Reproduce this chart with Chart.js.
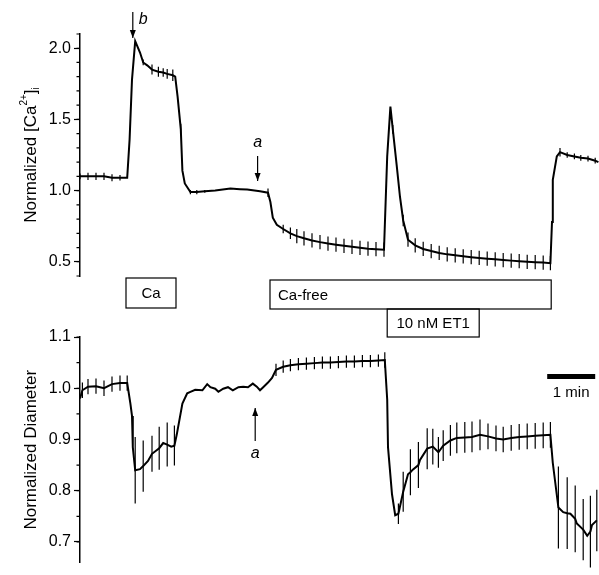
<!DOCTYPE html>
<html>
<head>
<meta charset="utf-8">
<script src="https://cdn.jsdelivr.net/npm/chart.js@4"></script>
<style>
html, body { margin: 0; padding: 0; background: #fff; }
#wrap { position: relative; width: 599px; height: 575px; }
canvas { position: absolute; left: 0; top: 0; }
</style>
</head>
<body>
<div id="wrap">
  <canvas id="caChart" width="599" height="575"></canvas>
  <canvas id="diamChart" width="599" height="575"></canvas>
</div>
<script>
// time is in seconds from the start of the trace
const caTime = [0, 10, 20, 30, 40, 50, 59, 62, 65, 69, 75, 79, 84, 90, 98, 104, 109, 116, 119, 122, 126, 128, 131,
    138, 146, 156, 169, 188, 200, 209, 225, 235, 238, 241, 246, 254, 263, 271, 280, 290, 300, 310, 320, 330, 340,
    350, 360, 370, 380, 384, 388, 391, 396, 400, 404, 410, 419, 429, 439, 449, 459, 469, 479, 489, 499, 509, 519,
    529, 539, 549, 559, 569, 579, 588, 590, 591, 596, 600, 609, 618, 626, 635, 644, 648];
const caValue = [1.10, 1.10, 1.10, 1.10, 1.09, 1.09, 1.09, 1.36, 1.78, 2.05, 1.97, 1.90, 1.88, 1.85, 1.835, 1.83,
    1.82, 1.81, 1.80, 1.66, 1.43, 1.14, 1.05,
    0.99, 0.99, 0.995, 1.0, 1.015, 1.01, 1.007, 0.995, 0.985, 0.92, 0.81, 0.76, 0.73, 0.70, 0.68, 0.665, 0.65, 0.638,
    0.628, 0.62, 0.612, 0.605, 0.598, 0.592, 0.588, 0.585, 1.24, 1.59, 1.43, 1.17, 0.955, 0.79, 0.655, 0.615, 0.59,
    0.575, 0.562, 0.552, 0.545, 0.538, 0.532, 0.527, 0.522, 0.517, 0.512, 0.508, 0.504, 0.50, 0.497, 0.494, 0.49,
    0.78, 1.075, 1.24, 1.27, 1.25, 1.24, 1.23, 1.225, 1.21, 1.20];
const caError = [0.02, 0.025, 0.025, 0.025, 0.025, 0.02, 0, 0, 0, 0, 0, 0.02, 0, 0.035, 0.035, 0.03,
    0.035, 0.04, 0, 0, 0.04, 0, 0,
    0.015, 0.015, 0.01, 0, 0, 0, 0, 0, 0.03, 0, 0, 0, 0.03, 0.04, 0.05, 0.05, 0.05, 0.05,
    0.05, 0.05, 0.05, 0.05, 0.05, 0.05, 0.05, 0.05, 0, 0, 0.03, 0, 0, 0.04, 0.05, 0.05, 0.05,
    0.05, 0.05, 0.05, 0.05, 0.05, 0.05, 0.05, 0.05, 0.05, 0.05, 0.05, 0.05, 0.05, 0.05, 0.05, 0.05,
    0, 0, 0, 0.03, 0.02, 0.02, 0.02, 0.02, 0.02, 0];

const diamTime = [0, 3, 10, 20, 30, 40, 50, 59, 63, 65, 66, 69, 75, 79, 85, 90, 99, 104, 109, 114, 118, 121, 128,
    134, 138, 144, 153, 159, 163, 169, 173, 179, 185, 191, 198, 204, 210, 216, 221, 225, 229, 235,
    240, 245, 254, 263, 273, 283, 293, 303, 313, 323, 333,
    343, 353, 363, 373, 381, 384, 385, 390, 394, 398, 404, 410, 413, 416, 423, 425, 434, 441, 448, 454, 463, 471,
    481, 490, 500, 510, 520, 529, 539, 549, 559, 569, 579, 588, 591, 598, 604, 609, 613, 619, 621, 629, 634, 638,
    640, 646];
const diamValue = [0.98, 0.996, 1.003, 1.004, 1.0, 1.008, 1.01, 1.01, 0.97, 0.946, 0.885, 0.84, 0.842, 0.848, 0.858,
    0.872, 0.883, 0.893, 0.89, 0.886, 0.888, 0.91, 0.97,
    0.99, 0.993, 0.997, 0.996, 1.008, 1.002, 0.999, 0.993, 0.999, 1.002, 0.996, 1.002, 1.003, 1.002, 1.009, 1.003,
    0.996, 1.002, 1.011,
    1.02, 1.036, 1.042, 1.045, 1.047, 1.048, 1.049, 1.05, 1.05, 1.051, 1.052,
    1.052, 1.053, 1.053, 1.054, 1.055, 0.978, 0.885, 0.793, 0.752, 0.755,
    0.798, 0.832, 0.836, 0.841, 0.85, 0.86, 0.882, 0.886, 0.875, 0.888, 0.898, 0.903, 0.904, 0.905, 0.909, 0.906,
    0.902, 0.90, 0.903, 0.905, 0.906, 0.907, 0.908, 0.909, 0.854, 0.767, 0.758, 0.756, 0.755, 0.745, 0.736, 0.724,
    0.712, 0.72, 0.733, 0.742];
const diamError = [0, 0.015, 0.015, 0.015, 0.015, 0.015, 0.015, 0.015, 0, 0, 0, 0.065, 0, 0.05, 0, 0.035, 0.042,
    0, 0.043, 0, 0.039, 0, 0,
    0, 0, 0, 0, 0, 0, 0, 0, 0, 0, 0, 0, 0, 0, 0, 0, 0, 0, 0,
    0, 0.012, 0.012, 0.012, 0.012, 0.012, 0.012, 0.012, 0.012, 0.012, 0.012,
    0.012, 0.012, 0.012, 0.012, 0.015, 0, 0, 0, 0, 0.02, 0.039, 0, 0.045, 0, 0.045, 0, 0.04, 0.035, 0.03, 0.03,
    0.03, 0.03, 0.03, 0.03, 0.03, 0.025, 0.025, 0.025, 0.025, 0.025, 0.025, 0.025, 0.025, 0.025, 0, 0.08, 0, 0.07,
    0, 0.065, 0, 0.06, 0, 0.07, 0, 0.06];

const caTicks = [0.5, 1.0, 1.5, 2.0];
const diamTicks = [0.7, 0.8, 0.9, 1.0, 1.1];

// bath conditions, seconds
const treatLabels = ['Ca', 'Ca-free', '10 nM ET1'];
const treatStart = [57.5, 237.5, 384];
const treatEnd = [120, 589, 499];

const FONT = '"Liberation Sans", Arial, sans-serif';
Chart.defaults.font.family = FONT;
Chart.defaults.color = '#000';

const errorBars = {
    id: 'errorBars',
    afterDatasetsDraw(chart) {
        const { ctx, scales: { x, y } } = chart;
        ctx.save();
        ctx.strokeStyle = '#000';
        ctx.lineWidth = 1.2;
        ctx.beginPath();
        chart.data.datasets[0].data.forEach(p => {
            if (!p.err) return;
            const px = x.getPixelForValue(p.x);
            ctx.moveTo(px, y.getPixelForValue(p.y - p.err));
            ctx.lineTo(px, y.getPixelForValue(p.y + p.err));
        });
        ctx.stroke();
        ctx.restore();
    }
};

const minorTicks = {
    id: 'minorTicks',
    afterDraw(chart, args, opts) {
        const { ctx, chartArea, scales: { y } } = chart;
        const step = opts.step;
        const first = Math.ceil(y.min / step - 1e-6);
        const last = Math.floor(y.max / step + 1e-6);
        ctx.save();
        ctx.strokeStyle = '#000';
        ctx.lineWidth = 1.2;
        ctx.beginPath();
        for (let k = first; k <= last; k++) {
            const py = y.getPixelForValue(k * step);
            ctx.moveTo(chartArea.left - 3.5, py);
            ctx.lineTo(chartArea.left, py);
        }
        ctx.stroke();
        ctx.restore();
    }
};

const yTitle = {
    id: 'yTitle',
    afterDraw(chart, args, opts) {
        const { ctx, chartArea } = chart;
        const parts = opts.parts;
        ctx.save();
        ctx.fillStyle = '#000';
        ctx.translate(26, (chartArea.top + chartArea.bottom) / 2 + opts.shift);
        ctx.rotate(-Math.PI / 2);
        ctx.textBaseline = 'middle';
        let total = 0;
        parts.forEach(p => {
            ctx.font = (p.size || 17) + 'px ' + FONT;
            total += ctx.measureText(p.text).width;
        });
        let cx = -total / 2;
        parts.forEach(p => {
            ctx.font = (p.size || 17) + 'px ' + FONT;
            ctx.textAlign = 'left';
            ctx.fillText(p.text, cx, 5 + (p.dy || 0));
            cx += ctx.measureText(p.text).width;
        });
        ctx.restore();
    }
};

const annotations = {
    id: 'annotations',
    afterDraw(chart) {
        const { ctx, scales: { x } } = chart;
        ctx.save();
        ctx.strokeStyle = '#000';
        ctx.fillStyle = '#000';
        ctx.lineWidth = 1.2;
        ctx.font = '15px ' + FONT;
        ctx.textBaseline = 'middle';

        const boxY = [[278, 308], [280, 309], [309, 337]];
        treatLabels.forEach((label, i) => {
            const x0 = x.getPixelForValue(treatStart[i]);
            const x1 = x.getPixelForValue(treatEnd[i]);
            const [y0, y1] = boxY[i];
            ctx.strokeRect(x0, y0, x1 - x0, y1 - y0);
            if (i === 1) {
                ctx.textAlign = 'left';
                ctx.fillText(label, x0 + 8, (y0 + y1) / 2 + 1);
            } else {
                ctx.textAlign = 'center';
                ctx.fillText(label, (x0 + x1) / 2, (y0 + y1) / 2 + 1);
            }
        });

        // 1 min scale bar
        const s0 = x.getPixelForValue(584);
        const s1 = x.getPixelForValue(644);
        ctx.fillRect(s0, 374, s1 - s0, 5);
        ctx.textAlign = 'center';
        ctx.fillText('1 min', (s0 + s1) / 2, 393);

        // arrows
        const arrow = (px, yTail, yHead) => {
            const dir = yHead > yTail ? 1 : -1;
            ctx.beginPath();
            ctx.moveTo(px, yTail);
            ctx.lineTo(px, yHead);
            ctx.stroke();
            ctx.beginPath();
            ctx.moveTo(px, yHead);
            ctx.lineTo(px - 3, yHead - dir * 8);
            ctx.lineTo(px + 3, yHead - dir * 8);
            ctx.closePath();
            ctx.fill();
        };
        ctx.font = 'italic 16px ' + FONT;
        const bx = x.getPixelForValue(66);
        arrow(bx, 12, 38);
        ctx.textAlign = 'left';
        ctx.fillText('b', bx + 6, 20);

        const ax = x.getPixelForValue(222);
        arrow(ax, 156, 181);
        ctx.textAlign = 'center';
        ctx.fillText('a', ax, 143);

        const ax2 = x.getPixelForValue(219);
        arrow(ax2, 441, 408);
        ctx.fillText('a', ax2, 454);
        ctx.restore();
    }
};

function makeChart(id, time, values, errors, yMin, yMax, ticks, minorStep, padTop, padBottom, titleParts, extra) {
    const points = time.map((t, i) => ({ x: t, y: values[i], err: errors[i] }));
    return new Chart(document.getElementById(id), {
        type: 'line',
        data: {
            datasets: [{
                data: points,
                borderColor: '#000',
                borderWidth: 2,
                pointRadius: 0,
                tension: 0,
                fill: false
            }]
        },
        options: {
            responsive: false,
            animation: false,
            events: [],
            layout: { padding: { top: padTop, bottom: padBottom, left: 0, right: 0 } },
            plugins: {
                legend: { display: false },
                tooltip: { enabled: false },
                minorTicks: { step: minorStep },
                yTitle: { parts: titleParts, shift: 0 }
            },
            scales: {
                x: { type: 'linear', display: false, min: 0, max: 648.75 },
                y: {
                    min: yMin,
                    max: yMax,
                    afterBuildTicks: s => { s.ticks = ticks.map(v => ({ value: v })); },
                    afterFit: s => { s.width = 80; },
                    border: { display: true, color: '#000', width: 1.5 },
                    grid: { drawOnChartArea: false, drawTicks: true, tickLength: 6, tickColor: '#000', tickWidth: 1.2 },
                    ticks: { color: '#000', font: { size: 16 }, padding: 3, callback: v => v.toFixed(1) }
                }
            }
        },
        plugins: [errorBars, minorTicks, yTitle].concat(extra)
    });
}

makeChart('caChart', caTime, caValue, caError, 0.4, 2.1, caTicks, 0.1, 34, 299, [
    { text: 'Normalized [Ca' },
    { text: '2+', size: 10, dy: -7 },
    { text: ']' },
    { text: 'i', size: 10, dy: 5 }
], [annotations]);

makeChart('diamChart', diamTime, diamValue, diamError, 0.66, 1.1, diamTicks, 0.05, 337, 0, [
    { text: 'Normalized Diameter' }
], []);
</script>
</body>
</html>
